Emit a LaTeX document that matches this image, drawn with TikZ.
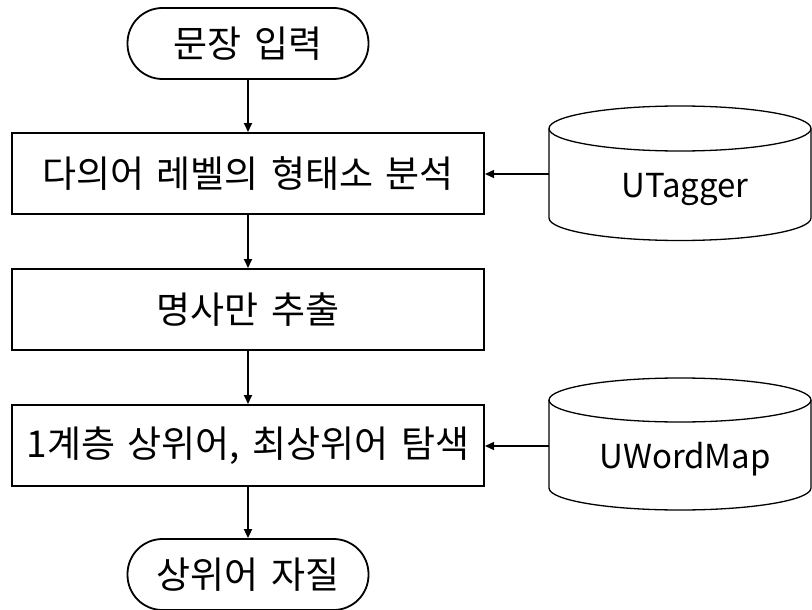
\documentclass[tikz,border=0pt]{standalone}
\usepackage{fontspec}
\setmainfont{Noto Sans CJK KR}[WordSpace=1.5]
\usetikzlibrary{arrows.meta}
\begin{document}
\begin{tikzpicture}[x=1pt,y=-1pt,
  every node/.style={font=\fontsize{37}{40}\selectfont, inner sep=0pt},
  procbox/.style={draw, line width=2pt, minimum width=472pt, minimum height=81pt},
  termbox/.style={draw, line width=1.8pt, rounded corners=35pt, minimum width=241pt, minimum height=71pt},
  dblabel/.style={font=\fontsize{33}{38}\selectfont, anchor=base},
  dbline/.style={line width=1.3pt},
  flow/.style={line width=1.8pt, -{Triangle[length=9pt,width=8pt]}},
  feed/.style={line width=1.3pt, -{Triangle[length=9pt,width=8pt]}}]
\useasboundingbox (0,0) rectangle (812,610);
\node[termbox] (t1) at (248,43.5) {문장 입력};
\node[procbox] (b1) at (248,173.5) {다의어 레벨의 형태소 분석};
\node[procbox] (b2) at (248,309.5) {명사만 추출};
\node[procbox] (b3) at (248,445.5) {1계층 상위어, 최상위어 탐색};
\node[termbox] (t2) at (248,574.5) {상위어 자질};
% cylinders
\draw[dbline] (680,128.5) ellipse [x radius=131, y radius=22.5];
\draw[dbline] (549,128.5) -- (549,218) arc[start angle=180, end angle=0, x radius=131, y radius=22.5] -- (811,128.5);
\node[minimum width=262pt, minimum height=134pt] (ut) at (680,173) {};
\node[dblabel] at (685,197) {UTagger};
\draw[dbline] (680,400) ellipse [x radius=131, y radius=22];
\draw[dbline] (549,400) -- (549,488) arc[start angle=180, end angle=0, x radius=131, y radius=22] -- (811,400);
\node[minimum width=262pt, minimum height=132pt] (uw) at (680,444) {};
\node[dblabel] at (685,468) {UWordMap};
% connectors
\draw[flow] (t1) -- (b1);
\draw[flow] (b1) -- (b2);
\draw[flow] (b2) -- (b3);
\draw[flow] (b3) -- (t2);
\draw[feed] (ut.west |- 0,174) -- (b1.east |- 0,174);
\draw[feed] (uw.west |- 0,446) -- (b3.east |- 0,446);
\end{tikzpicture}
\end{document}
